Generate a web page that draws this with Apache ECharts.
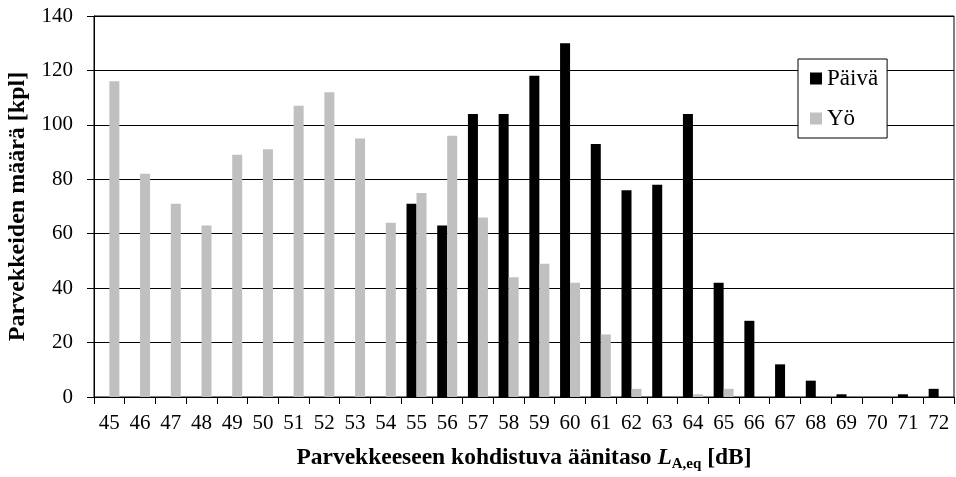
<!DOCTYPE html>
<html>
<head>
<meta charset="utf-8">
<script src="https://cdn.jsdelivr.net/npm/echarts@6/dist/echarts.min.js"></script>
<style>
html,body{margin:0;padding:0;background:#fff;}
#chart{width:956px;height:477px;}
</style>
</head>
<body>
<div id="chart"></div>
<script>
var categories = ['45','46','47','48','49','50','51','52','53','54','55','56','57','58','59','60','61','62','63','64','65','66','67','68','69','70','71','72'];
var paiva = [0,0,0,0,0,0,0,0,0,0,71,63,104,104,118,130,93,76,78,104,42,28,12,6,1,0,1,3];
var yo = [116,82,71,63,89,91,107,112,95,64,75,96,66,44,49,42,23,3,0,1,3,0,0,0,0,0,0,0];
var yTicks = [0,20,40,60,80,100,120,140];

var FONT = "'Liberation Serif', 'Times New Roman', serif";
var chart = echarts.init(document.getElementById('chart'), null, {renderer: 'canvas'});
chart.setOption({
  animation: false,
  backgroundColor: '#fff',
  textStyle: {fontFamily: FONT, color: '#000'},
  grid: {left: 94, right: 2, top: 16, bottom: 80, containLabel: false, outerBoundsMode: 'none',
    show: true, borderColor: '#000', borderWidth: 1, backgroundColor: 'transparent'},
  legend: {
    orient: 'vertical', left: 798, top: 59,
    backgroundColor: '#fff', borderColor: '#000', borderWidth: 1,
    padding: [8, 9, 8, 12], itemGap: 17, itemWidth: 12, itemHeight: 12,
    icon: 'rect',
    textStyle: {fontFamily: FONT, fontSize: 23, color: '#000'},
    data: ['Päivä', 'Yö']
  },
  xAxis: {
    type: 'category', data: categories,
    axisLine: {lineStyle: {color: '#000', width: 1}},
    axisTick: {show: true, length: 7, lineStyle: {color: '#000'}},
    axisLabel: {fontFamily: FONT, fontSize: 21, color: '#000', margin: 16, interval: 0},
    name: '{b|Parvekkeeseen kohdistuva äänitaso }{i|L}{s|A,eq}{b| [dB]}',
    nameLocation: 'middle', nameGap: 46,
    nameTextStyle: {
      rich: {
        b: {fontFamily: FONT, fontSize: 23.5, fontWeight: 'bold', color: '#000'},
        i: {fontFamily: FONT, fontSize: 23.5, fontWeight: 'bold', fontStyle: 'italic', color: '#000'},
        s: {fontFamily: FONT, fontSize: 15, fontWeight: 'bold', color: '#000', padding: [14, 0, 0, 0]}
      }
    }
  },
  yAxis: {
    type: 'value', min: 0, max: 140, interval: 20,
    axisLine: {show: true, lineStyle: {color: '#000', width: 1}},
    axisTick: {show: true, length: 7, lineStyle: {color: '#000'}},
    axisLabel: {fontFamily: FONT, fontSize: 21, color: '#000', margin: 21,
      formatter: function (v) { return yTicks.indexOf(v) >= 0 ? String(v) : ''; }},
    splitLine: {show: true, lineStyle: {color: '#000', width: 1}},
    name: 'Parvekkeiden määrä [kpl]', nameLocation: 'middle', nameGap: 64, nameRotate: 90,
    nameTextStyle: {fontFamily: FONT, fontSize: 24, fontWeight: 'bold', color: '#000'}
  },
  series: [
    {name: 'Päivä', type: 'bar', data: paiva, barWidth: 10, barGap: '0%', itemStyle: {color: '#000'}},
    {name: 'Yö', type: 'bar', data: yo, barWidth: 10, barGap: '0%', itemStyle: {color: '#c0c0c0'}}
  ]
});
</script>
</body>
</html>
